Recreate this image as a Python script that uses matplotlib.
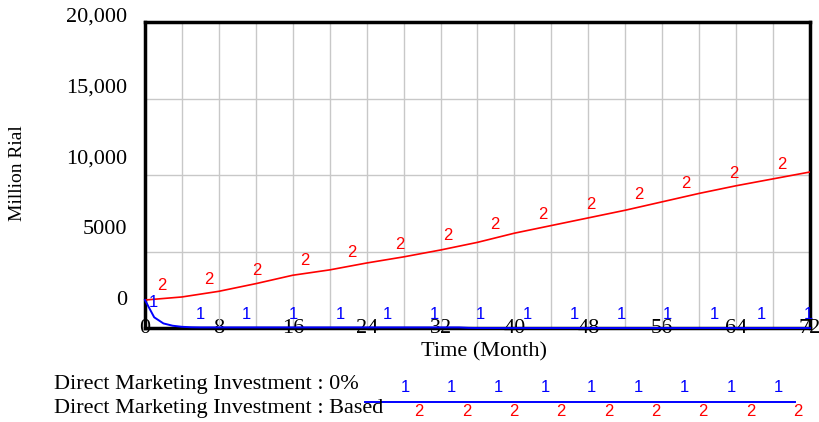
import numpy as np
import matplotlib
matplotlib.use("Agg")
import matplotlib.pyplot as plt
import matplotlib.transforms as mtransforms

# data
months = [0, 4, 8, 12, 16, 20, 24, 28, 32, 36, 40, 44, 48, 52, 56, 60, 64, 68, 72]
based = [1830, 2030, 2400, 2900, 3450, 3800, 4250, 4650, 5100, 5600,
         6200, 6700, 7200, 7700, 8250, 8800, 9300, 9750, 10200]
zero_t = [0, 1, 2, 3, 4, 5, 6, 12, 20, 28, 34, 35, 36, 48, 60, 72]
zero_pct = [1830, 700, 300, 150, 80, 50, 40, 40, 40, 40, 40, 10, 0, 0, 0, 0]
y_ticks = [0, 5000, 10000, 15000, 20000]
y_labels = ["0", "5000", "10,000", "15,000", "20,000"]
x_ticks = [0, 8, 16, 24, 32, 40, 48, 56, 64, 72]
series_names = ["Direct Marketing Investment : 0%", "Direct Marketing Investment : Based"]

serif = "Liberation Serif"
sans = "Liberation Sans"
blue = "#0000ff"
red = "#ff0000"

fig = plt.figure(figsize=(8.19, 4.22), dpi=100)
ax = fig.add_axes([0.177, 0.2227, 0.812, 0.725])
ax.set_xlim(0, 72)
ax.set_ylim(0, 20000)

# grid
ax.set_xticks(np.arange(0, 73, 4))
ax.set_yticks(y_ticks)
ax.grid(True, color="#c8c8c8", linewidth=1)
ax.tick_params(length=0, labelbottom=False, labelleft=False)
for s in ax.spines.values():
    s.set_linewidth(2.5)
    s.set_color("black")

ax.plot(months, based, color=red, linewidth=1.2, zorder=3)
ax.plot(zero_t, zero_pct, color=blue, linewidth=1.4, zorder=4, clip_on=False)

# number markers along the lines (Vensim style)
off = mtransforms.offset_copy(ax.transData, fig=fig, x=0, y=9.5, units="points")
for t in np.linspace(1.8, 68.9, 14):
    ax.text(t, np.interp(t, months, based), "2", color=red, fontsize=12,
            family=sans, ha="center", va="center", transform=off, zorder=5)
for t in np.linspace(0.9, 71.8, 15):
    ax.text(t, np.interp(t, zero_t, zero_pct), "1", color=blue, fontsize=12,
            family=sans, ha="center", va="center", transform=off, zorder=5)

# tick labels
xt = mtransforms.blended_transform_factory(ax.transData, ax.transAxes)
for v in x_ticks:
    ax.text(v, 0, str(v), transform=xt, ha="center", va="center",
            fontsize=16, family=serif, zorder=1)
yt = mtransforms.offset_copy(ax.transAxes, fig=fig, x=-18, y=0, units="dots")
for v, lab in zip(y_ticks, y_labels):
    ax.text(0, 0.0915 + 0.9245 * v / 20000, lab, transform=yt, ha="right",
            va="center", fontsize=16, family=serif)

fig.text(18 / 819, 1 - 173 / 422, "Million Rial", rotation=90, ha="center",
         va="center", fontsize=14, family=serif)
fig.text(484 / 819, 1 - 352 / 422, "Time (Month)", ha="center", va="center",
         fontsize=16, family=serif)

# legend
fig.text(54 / 819, 1 - 385 / 422, series_names[0], ha="left", va="center",
         fontsize=16, family=serif)
fig.text(54 / 819, 1 - 409 / 422, series_names[1], ha="left", va="center",
         fontsize=16, family=serif)
lx = np.array([365, 795]) / 819
fig.add_artist(plt.Line2D(lx, [1 - 402 / 422] * 2, color=blue, linewidth=1.4))
for x in np.linspace(405, 778, 9):
    fig.text(x / 819, 1 - 387 / 422, "1", color=blue, fontsize=12, family=sans,
             ha="center", va="center")
for x in np.linspace(419, 798, 9):
    fig.text(x / 819, 1 - 411 / 422, "2", color=red, fontsize=12, family=sans,
             ha="center", va="center")

fig.savefig("out.png", dpi=100)
